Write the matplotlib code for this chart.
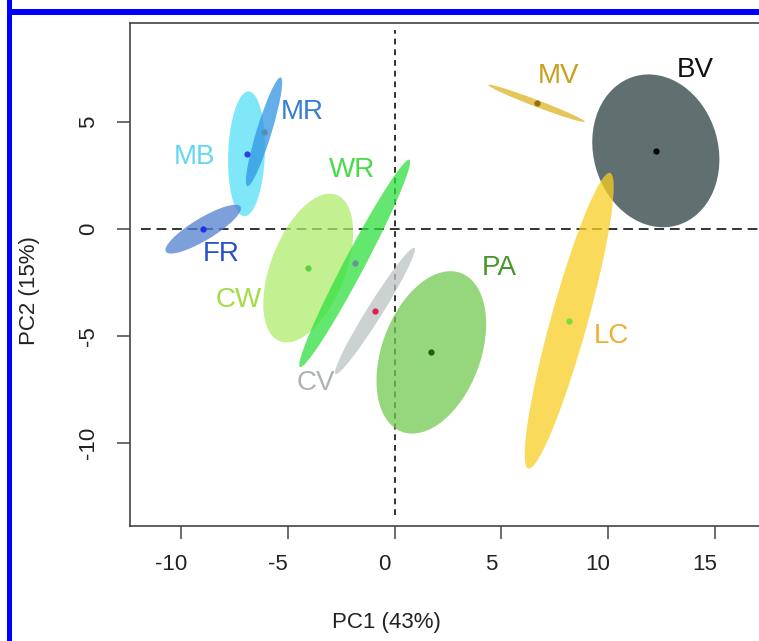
# PCA score plot with confidence ellipses per group
import matplotlib.pyplot as plt
import matplotlib.transforms as mtransforms
from matplotlib.patches import Ellipse, Rectangle

# Group data (PC1, PC2 centres, ellipse semi-axes and angle in degrees)
groups = ['BV', 'MV', 'LC', 'PA', 'CW', 'WR', 'CV', 'MB', 'MR', 'FR']
pc1 = [12.24, 6.65, 8.18, 1.72, -4.05, -1.87, -0.92, -6.94, -6.12, -8.97]
pc2 = [3.64, 5.86, -4.30, -5.78, -1.84, -1.62, -3.84, 3.50, 4.53, -0.02]
semi_major = [3.62, 2.42, 7.17, 3.96, 3.67, 5.48, 3.48, 2.92, 2.66, 2.04]
semi_minor = [2.92, 0.16, 0.86, 2.31, 1.75, 0.48, 0.36, 0.86, 0.35, 0.52]
angle = [106.0, -20.8, 74.5, 69.5, 68.7, 62.1, 57.9, 88.0, 72.9, 31.0]

# label positions
label_x = [14.07, 7.66, 10.17, 4.89, -7.30, -1.98, -3.70, -9.36, -4.32, -8.14]
label_y = [7.43, 7.14, -5.00, -1.84, -3.34, 2.74, -7.19, 3.37, 5.47, -1.18]

# colours
fill_col = ['#2b4040', '#dcb424', '#f8ce23', '#73ca52', '#afeb6c',
            '#30e03e', '#bcc3c3', '#56e0f8', '#3094e4', '#5280d0']
dot_col = ['#000000', '#966e0a', '#78dc3c', '#146414', '#5ad23c',
           '#649696', '#dc1e50', '#3040dd', '#5a8cb0', '#1e32e6']
text_col = ['#111111', '#c8a01e', '#f0af32', '#469628', '#a0dc46',
            '#46dc46', '#aab2b4', '#64d7f0', '#377dd2', '#2850c8']

x_ticks = [-10, -5, 0, 5, 10, 15]
y_ticks = [-10, -5, 0, 5]

plt.rcParams['font.family'] = ['Liberation Sans', 'DejaVu Sans']
plt.rcParams['axes.unicode_minus'] = False

fig = plt.figure(figsize=(7.59, 6.41), dpi=100)
ax = fig.add_axes([0.1713, 0.1799, 0.8547, 0.7847])
ax.set_xlim(-12.4, 18.0)
ax.set_ylim(-13.88, 9.63)

# reference lines
ax.plot([-11.9, 18], [0, 0], color='#333333', lw=1.4, ls=(0, (5, 3)), zorder=1)
ax.plot([0, 0], [-13.4, 9.3], color='#333333', lw=1.4, ls=(0, (3, 2.5)), zorder=1)

# ellipses, centroids and names
for i, g in enumerate(groups):
    e = Ellipse((pc1[i], pc2[i]), 2 * semi_major[i], 2 * semi_minor[i],
                angle=angle[i], facecolor=fill_col[i], edgecolor='none',
                alpha=0.75, zorder=2 + i)
    ax.add_patch(e)
    ax.plot(pc1[i], pc2[i], 'o', color=dot_col[i], ms=4.5, mew=0, zorder=20)
    ax.text(label_x[i], label_y[i], g, color=text_col[i], fontsize=20,
            ha='center', va='center', zorder=21)

# axes styling (R base look)
for s in ax.spines.values():
    s.set_color('#444444')
    s.set_linewidth(1.2)
ax.set_xticks(x_ticks)
ax.set_yticks(y_ticks)
ax.set_yticklabels([str(v) for v in y_ticks], rotation=90, va='center')
ax.tick_params(direction='out', length=9.4, width=1.1, color='#444444',
               labelsize=16, labelcolor='#222222')
ax.tick_params(axis='x', pad=11)
ax.tick_params(axis='y', pad=13)
shift = mtransforms.ScaledTranslation(-0.10, 0, fig.dpi_scale_trans)
for lab in ax.get_xticklabels():
    lab.set_transform(lab.get_transform() + shift)

ax.set_xlabel('PC1 (43%)', fontsize=16, color='#222222')
ax.set_ylabel('PC2 (15%)', fontsize=16, color='#222222')
ax.xaxis.label.set_va('center')
ax.yaxis.label.set_va('center')
ax.xaxis.set_label_coords(0.3946, -0.193)
ax.yaxis.set_label_coords(-0.1557, 0.4666)

# blue frame of the figure
fig.add_artist(Rectangle((7 / 759, 0), 4.7 / 759, 1.0, transform=fig.transFigure,
                         color='#0000ff', lw=0))
fig.add_artist(Rectangle((7 / 759, 1 - 15 / 641), 1.0, 5.5 / 641,
                         transform=fig.transFigure, color='#0000ff', lw=0))

plt.savefig('out.png', dpi=100)
